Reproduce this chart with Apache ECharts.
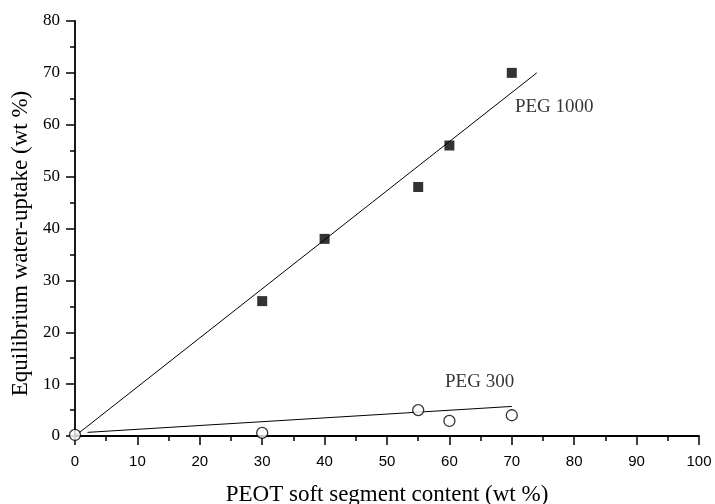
<!DOCTYPE html>
<html><head><meta charset="utf-8">
<script src="https://cdn.jsdelivr.net/npm/echarts@6/dist/echarts.min.js"></script>
<style>html,body{margin:0;padding:0;background:#fff}#c{width:715px;height:504px}</style>
</head><body><div id="c"></div>
<script>
const xTicks = [0,10,20,30,40,50,60,70,80,90,100];
const yTicks = [0,10,20,30,40,50,60,70,80];
const peg1000X = [30,40,55,60,70];
const peg1000Y = [26,38,48,56,70];
const peg300X = [0,30,55,60,70];
const peg300Y = [0.2,0.6,5,2.9,4];
const fit1000X = [0,74];
const fit1000Y = [0,70];
const fit300X = [2,70];
const fit300Y = [0.7,5.7];
const labelNames = ['PEG 1000','PEG 300'];
const labelX = [70.5,59.3];
const labelY = [63.4,10.4];

const zip = (a,b)=>a.map((v,i)=>[v,b[i]]);
const serif = '"Liberation Serif","Times New Roman",serif';
const chart = echarts.init(document.getElementById('c'));
chart.setOption({
  animation:false,
  grid:{left:75,right:16,top:21,bottom:68,containLabel:false,outerBoundsMode:'none'},
  xAxis:{type:'value',min:0,max:100,interval:10,
    name:'PEOT soft segment content (wt %)',nameLocation:'middle',nameGap:47,
    nameTextStyle:{fontFamily:serif,fontSize:23,color:'#000'},
    axisLine:{show:true,lineStyle:{color:'#000',width:1.8}},
    axisTick:{show:true,inside:false,length:9,lineStyle:{color:'#000',width:1.5}},
    minorTick:{show:true,splitNumber:2,length:5,lineStyle:{color:'#000',width:1.5}},
    axisLabel:{fontFamily:'"Liberation Sans",Arial,sans-serif',fontSize:15,color:'#000',margin:18},
    splitLine:{show:false}},
  yAxis:{type:'value',min:0,max:80,interval:10,
    name:'Equilibrium water-uptake (wt %)',nameLocation:'middle',nameGap:42,
    nameTextStyle:{fontFamily:serif,fontSize:23,color:'#000',padding:[0,30,0,0]},
    axisLine:{show:true,lineStyle:{color:'#000',width:1.8}},
    axisTick:{show:true,inside:false,length:9,lineStyle:{color:'#000',width:1.5}},
    minorTick:{show:true,splitNumber:2,length:5,lineStyle:{color:'#000',width:1.5}},
    axisLabel:{fontFamily:serif,fontSize:17,color:'#000',margin:15},
    splitLine:{show:false}},
  series:[
    {type:'line',data:zip(fit1000X,fit1000Y),symbol:'none',lineStyle:{color:'#000',width:1},z:2},
    {type:'line',data:zip(fit300X,fit300Y),symbol:'none',lineStyle:{color:'#000',width:1},z:2},
    {type:'scatter',data:zip(peg1000X,peg1000Y),symbol:'rect',symbolSize:10,clip:false,
      itemStyle:{color:'#000'},z:3},
    {type:'scatter',data:zip(peg300X,peg300Y),symbol:'circle',symbolSize:11,clip:false,
      itemStyle:{color:'#fff',borderColor:'#000',borderWidth:1.3},z:4},
    {type:'scatter',data:labelNames.map((n,i)=>({value:[labelX[i],labelY[i]],name:n})),
      symbolSize:0,clip:false,silent:true,
      label:{show:true,position:'right',distance:0,formatter:p=>p.name,
        fontFamily:serif,fontSize:19,color:'#000'},z:5}
  ]
});
</script></body></html>
